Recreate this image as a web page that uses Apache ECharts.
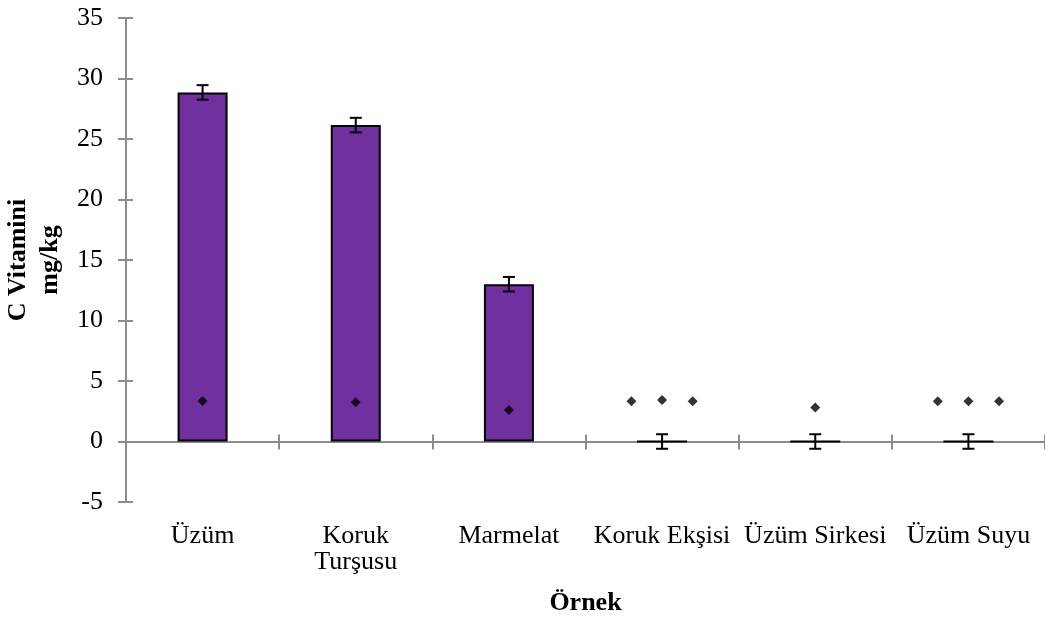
<!DOCTYPE html>
<html>
<head>
<meta charset="utf-8">
<script src="https://cdn.jsdelivr.net/npm/echarts@6/dist/echarts.min.js"></script>
<style>
  html, body { margin: 0; padding: 0; background: #ffffff; }
  #chart { width: 1045px; height: 621px; }
</style>
</head>
<body>
<div id="chart"></div>
<script>
// Sample names along the x axis
const categories = ['Üzüm', 'Koruk\nTurşusu', 'Marmelat', 'Koruk Ekşisi', 'Üzüm Sirkesi', 'Üzüm Suyu'];
// Vitamin C content (mg/kg) and its error margin
const vitaminC = [28.85, 26.15, 13.0, 0, 0, 0];
const vitaminCError = [0.6, 0.6, 0.6, 0.6, 0.6, 0.6];
// Point markers: centre of each category, plus left/right companions
const markerCenter = [3.35, 3.25, 2.6, 3.42, 2.8, 3.32];
const markerLeft = [null, null, null, 3.32, null, 3.32];
const markerRight = [null, null, null, 3.32, null, 3.32];
// Value axis ticks
const yMin = -5;
const yMax = 35;
const yStep = 5;

const FONT = "'Liberation Serif', 'Times New Roman', serif";
const AXIS_GRAY = '#8c8c8c';
const SIDE_SHIFT = 0.2; // companion marker distance, in category widths

const chart = echarts.init(document.getElementById('chart'), null, { renderer: 'canvas' });

function markerData(values, shift) {
  const out = [];
  values.forEach(function (v, i) {
    if (v !== null) out.push([i + 0.5 + shift, v]);
  });
  return out;
}

const errorData = vitaminC.map(function (v, i) { return [i, v, vitaminCError[i]]; });

const option = {
  backgroundColor: '#ffffff',
  animation: false,
  grid: { left: 126, right: 0, top: 18, bottom: 119, outerBoundsMode: 'none', containLabel: false },
  xAxis: [
    { // axis line at zero with downward ticks
      type: 'category', data: categories, position: 'bottom',
      axisLine: { onZero: true, onZeroAxisIndex: 0, lineStyle: { color: AXIS_GRAY, width: 2 } },
      axisTick: { show: true, inside: false, length: 8, alignWithLabel: false, lineStyle: { color: AXIS_GRAY, width: 2 } },
      axisLabel: { show: false }, splitLine: { show: false }
    },
    { // upward ticks at zero
      type: 'category', data: categories, position: 'bottom',
      axisLine: { show: false, onZero: true, onZeroAxisIndex: 0 },
      axisTick: { show: true, inside: true, length: 7, lineStyle: { color: AXIS_GRAY, width: 2 } },
      axisLabel: { show: false }, splitLine: { show: false }
    },
    { // category labels along the bottom of the plot
      type: 'category', data: categories, position: 'bottom',
      axisLine: { show: false, onZero: false },
      axisTick: { show: false },
      axisLabel: { show: true, margin: 21, fontFamily: FONT, fontSize: 26, lineHeight: 26, color: '#000000', interval: 0 },
      splitLine: { show: false },
      name: 'Örnek', nameLocation: 'middle', nameGap: 88,
      nameTextStyle: { fontFamily: FONT, fontSize: 26, fontWeight: 'bold', color: '#000000' }
    },
    { // hidden continuous axis for point markers
      type: 'value', min: 0, max: categories.length, show: false, position: 'bottom',
      axisLine: { onZero: false }
    }
  ],
  yAxis: [
    {
      type: 'value', min: yMin, max: yMax, interval: yStep, position: 'left',
      axisLine: { show: true, onZero: false, lineStyle: { color: AXIS_GRAY, width: 2 } },
      axisTick: { show: true, inside: false, length: 8, lineStyle: { color: AXIS_GRAY, width: 2 } },
      axisLabel: { margin: 23, fontFamily: FONT, fontSize: 26, color: '#000000' },
      splitLine: { show: false },
      name: 'C Vitamini\nmg/kg', nameLocation: 'middle', nameGap: 53, nameRotate: 90,
      nameTextStyle: { fontFamily: FONT, fontSize: 26, fontWeight: 'bold', color: '#000000', lineHeight: 32, align: 'center' }
    },
    {
      type: 'value', min: yMin, max: yMax, interval: yStep, position: 'left',
      axisLine: { show: false, onZero: false },
      axisTick: { show: true, inside: true, length: 7, lineStyle: { color: AXIS_GRAY, width: 2 } },
      axisLabel: { show: false }, splitLine: { show: false }
    }
  ],
  series: [
    {
      name: 'C Vitamini', type: 'bar', xAxisIndex: 0, yAxisIndex: 0,
      data: vitaminC, barWidth: 50,
      itemStyle: { color: '#7030a0', borderColor: '#000000', borderWidth: 2 },
      z: 3
    },
    {
      name: 'Hata', type: 'custom', xAxisIndex: 0, yAxisIndex: 0,
      data: errorData, encode: { x: 0, y: 1 }, z: 4,
      renderItem: function (params, api) {
        const x = api.value(0), v = api.value(1), e = api.value(2);
        const top = api.coord([x, v + e]);
        const bot = api.coord([x, v - e]);
        const half = 6;
        const style = { stroke: '#000000', lineWidth: 2 };
        return {
          type: 'group',
          children: [
            { type: 'line', shape: { x1: top[0], y1: top[1], x2: bot[0], y2: bot[1] }, style: style },
            { type: 'line', shape: { x1: top[0] - half, y1: top[1], x2: top[0] + half, y2: top[1] }, style: style },
            { type: 'line', shape: { x1: bot[0] - half, y1: bot[1], x2: bot[0] + half, y2: bot[1] }, style: style }
          ]
        };
      }
    },
    {
      name: 'Nokta', type: 'scatter', xAxisIndex: 3, yAxisIndex: 0, z: 5,
      symbol: 'diamond', symbolSize: 10, itemStyle: { color: '#000000' },
      data: markerData(markerCenter, 0)
        .concat(markerData(markerLeft, -SIDE_SHIFT))
        .concat(markerData(markerRight, SIDE_SHIFT))
    }
  ]
};

chart.setOption(option);
</script>
</body>
</html>
